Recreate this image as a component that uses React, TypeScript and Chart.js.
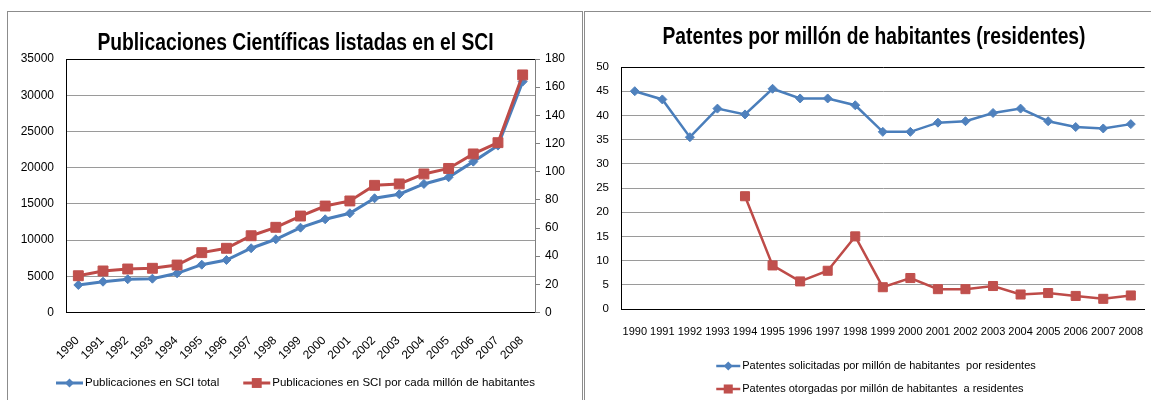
import React, { useEffect, useRef } from 'react';
import { Chart, registerables } from 'chart.js';

Chart.register(...registerables);

// ---------- data ----------
const years = ['1990', '1991', '1992', '1993', '1994', '1995', '1996', '1997', '1998', '1999', '2000', '2001', '2002', '2003', '2004', '2005', '2006', '2007', '2008'];

const sciTitle = 'Publicaciones Científicas listadas en el SCI';
const sciTotalLabel = 'Publicaciones en SCI total';
const sciPerMillionLabel = 'Publicaciones en SCI por cada millón de habitantes';
const sciTotal = [3800, 4250, 4590, 4670, 5410, 6600, 7250, 8870, 10110, 11710, 12870, 13700, 15770, 16330, 17750, 18670, 20830, 23040, 31880];
const sciPerMillion = [26.1, 29.5, 30.9, 31.4, 33.7, 42.5, 45.6, 54.5, 60.5, 68.5, 75.6, 79.2, 90.3, 91.3, 98.4, 102.3, 112.6, 120.6, 168.7];
const sciLeftTicks = [0, 5000, 10000, 15000, 20000, 25000, 30000, 35000];
const sciRightTicks = [0, 20, 40, 60, 80, 100, 120, 140, 160, 180];

const patTitle = 'Patentes por millón de habitantes (residentes)';
const patAppliedLabel = 'Patentes solicitadas por millón de habitantes  por residentes';
const patGrantedLabel = 'Patentes otorgadas por millón de habitantes  a residentes';
const patApplied = [45.0, 43.3, 35.5, 41.4, 40.2, 45.5, 43.5, 43.5, 42.1, 36.6, 36.6, 38.5, 38.8, 40.5, 41.4, 38.8, 37.6, 37.3, 38.2];
const patGranted = [null, null, null, null, 23.3, 9.0, 5.7, 7.9, 15.0, 4.5, 6.4, 4.1, 4.1, 4.75, 3.0, 3.3, 2.7, 2.1, 2.8];
const patTicks = [0, 5, 10, 15, 20, 25, 30, 35, 40, 45, 50];

// ---------- styles ----------
const BLUE = '#4F81BD';
const BLUE_LINE = '#4A7EBB';
const RED = '#C0504D';
const RED_LINE = '#BE4B48';
const GRID = '#9a9a9a';
const FRAME = '#8c8c8c';
const TICK_FONT = 'Liberation Sans';
const TITLE_FONT = '"Liberation Sans", Arial, sans-serif';

// ---------- plugins ----------
const excelTitle = {
  id: 'excelTitle',
  afterDraw(chart: any, _args: any, opts: any) {
    const { ctx } = chart;
    ctx.save();
    ctx.font = opts.font;
    ctx.fillStyle = '#000';
    ctx.textAlign = 'center';
    ctx.textBaseline = 'alphabetic';
    ctx.translate(opts.x, opts.y);
    ctx.scale(opts.condense, 1);
    ctx.fillText(opts.text, 0, 0);
    ctx.restore();
  },
};

function drawMarker(ctx: any, ds: any, x: number, y: number) {
  const r = ds.pointRadius;
  ctx.fillStyle = ds.pointBackgroundColor;
  ctx.beginPath();
  if (ds.pointStyle === 'rectRot') {
    ctx.moveTo(x, y - r);
    ctx.lineTo(x + r, y);
    ctx.lineTo(x, y + r);
    ctx.lineTo(x - r, y);
    ctx.closePath();
  } else {
    const s = Math.SQRT1_2 * r;
    ctx.rect(x - s, y - s, 2 * s, 2 * s);
  }
  ctx.fill();
}

const excelLegend = {
  id: 'excelLegend',
  afterDraw(chart: any, _args: any, opts: any) {
    const { ctx } = chart;
    const datasets = chart.data.datasets;
    ctx.save();
    ctx.font = opts.font;
    const widths = datasets.map((d: any) => opts.lineLen + opts.textGap + ctx.measureText(d.label).width);
    const drawItem = (ds: any, x: number, y: number) => {
      ctx.strokeStyle = ds.borderColor;
      ctx.lineWidth = ds.borderWidth;
      ctx.beginPath();
      ctx.moveTo(x, y);
      ctx.lineTo(x + opts.lineLen, y);
      ctx.stroke();
      drawMarker(ctx, ds, x + opts.lineLen / 2, y);
      ctx.fillStyle = '#000';
      ctx.textAlign = 'left';
      ctx.textBaseline = 'middle';
      ctx.fillText(ds.label, x + opts.lineLen + opts.textGap, y);
    };
    if (opts.layout === 'row') {
      const total = widths.reduce((a: number, b: number) => a + b, 0) + opts.itemGap * (datasets.length - 1);
      let x = opts.centerX - total / 2;
      datasets.forEach((ds: any, i: number) => {
        drawItem(ds, x, opts.y);
        x += widths[i] + opts.itemGap;
      });
    } else {
      const maxW = Math.max(...widths);
      const x = opts.centerX - maxW / 2;
      datasets.forEach((ds: any, i: number) => drawItem(ds, x, opts.y + i * opts.rowGap));
    }
    ctx.restore();
  },
};

const setTicks = (values: number[]) => (scale: any) => {
  scale.ticks = values.map((v) => ({ value: v }));
};

// ---------- charts ----------
function buildSci(canvas: HTMLCanvasElement) {
  const w = canvas.width;
  return new Chart(canvas, {
    type: 'line',
    data: {
      labels: years,
      datasets: [
        {
          label: sciTotalLabel,
          data: sciTotal,
          yAxisID: 'y',
          borderColor: BLUE_LINE,
          backgroundColor: BLUE,
          borderWidth: 3,
          pointStyle: 'rectRot',
          pointRadius: 4.5,
          pointBackgroundColor: BLUE,
          pointBorderColor: BLUE,
          pointBorderWidth: 1,
          tension: 0,
          order: 1,
        },
        {
          label: sciPerMillionLabel,
          data: sciPerMillion,
          yAxisID: 'y1',
          borderColor: RED_LINE,
          backgroundColor: RED,
          borderWidth: 3,
          pointStyle: 'rect',
          pointRadius: 7,
          pointBackgroundColor: RED,
          pointBorderColor: RED,
          pointBorderWidth: 1,
          tension: 0,
          order: 0,
        },
      ],
    },
    options: {
      responsive: false,
      animation: false,
      events: [],
      layout: { padding: { top: 47, left: 0, right: 0, bottom: 7.5 } },
      plugins: {
        legend: { display: false },
        title: { display: false },
        tooltip: { enabled: false },
        excelTitle: { text: sciTitle, x: w / 2 + 0.5, y: 38, condense: 0.82, font: `bold 23.5px ${TITLE_FONT}` },
        excelLegend: {
          layout: 'row',
          centerX: w / 2 + 0.5,
          y: 371,
          lineLen: 27,
          textGap: 2,
          itemGap: 24,
          font: '11.5px "Liberation Sans", Arial, sans-serif',
        },
      } as any,
      scales: {
        x: {
          type: 'category',
          offset: true,
          grid: { display: false, drawTicks: false },
          border: { display: true, color: '#000', width: 1 },
          ticks: {
            color: '#000',
            font: { family: TICK_FONT, size: 12 },
            minRotation: 45,
            maxRotation: 45,
            autoSkip: false,
            padding: 21,
            labelOffset: -1,
          },
          afterFit: (s: any) => {
            s.height = 80;
            s.paddingLeft = 0;
            s.paddingRight = 0;
          },
        },
        y: {
          type: 'linear',
          position: 'left',
          min: 0,
          max: 35000,
          afterBuildTicks: setTicks(sciLeftTicks),
          grid: {
            drawTicks: false,
            color: (c: any) => (c.tick && c.tick.value === 35000 ? '#000' : GRID),
          },
          border: { display: true, color: '#000', width: 1 },
          ticks: {
            color: '#000',
            font: { family: TICK_FONT, size: 12 },
            padding: 12,
            callback: (v: any) => String(v),
          },
          afterFit: (s: any) => {
            s.width = 58;
          },
        },
        y1: {
          type: 'linear',
          position: 'right',
          min: 0,
          max: 180,
          afterBuildTicks: setTicks(sciRightTicks),
          grid: { drawOnChartArea: false, drawTicks: true, tickLength: 5, color: '#808080' },
          border: { display: true, color: '#808080', width: 1 },
          ticks: {
            color: '#000',
            font: { family: TICK_FONT, size: 12 },
            padding: 5,
            callback: (v: any) => String(v),
          },
          afterFit: (s: any) => {
            s.width = 47;
          },
        },
      },
    },
    plugins: [excelTitle, excelLegend],
  } as any);
}

function buildPat(canvas: HTMLCanvasElement) {
  return new Chart(canvas, {
    type: 'line',
    data: {
      labels: years,
      datasets: [
        {
          label: patAppliedLabel,
          data: patApplied,
          borderColor: BLUE_LINE,
          backgroundColor: BLUE,
          borderWidth: 2.5,
          pointStyle: 'rectRot',
          pointRadius: 4.5,
          pointBackgroundColor: BLUE,
          pointBorderColor: BLUE,
          pointBorderWidth: 1,
          tension: 0,
        },
        {
          label: patGrantedLabel,
          data: patGranted,
          borderColor: RED_LINE,
          backgroundColor: RED,
          borderWidth: 2.5,
          pointStyle: 'rect',
          pointRadius: 6.4,
          pointBackgroundColor: RED,
          pointBorderColor: RED,
          pointBorderWidth: 1,
          tension: 0,
          spanGaps: false,
        },
      ],
    },
    options: {
      responsive: false,
      animation: false,
      events: [],
      layout: { padding: { top: 55, left: 0, right: 0, bottom: 61 } },
      plugins: {
        legend: { display: false },
        title: { display: false },
        tooltip: { enabled: false },
        excelTitle: { text: patTitle, x: 289, y: 31.5, condense: 0.82, font: `bold 23.5px ${TITLE_FONT}` },
        excelLegend: {
          layout: 'column',
          centerX: 291,
          y: 354,
          rowGap: 23,
          lineLen: 24,
          textGap: 2,
          font: '11px "Liberation Sans", Arial, sans-serif',
        },
      } as any,
      scales: {
        x: {
          type: 'category',
          offset: true,
          grid: { display: false, drawTicks: false },
          border: { display: true, color: '#000', width: 1 },
          ticks: {
            color: '#000',
            font: { family: TICK_FONT, size: 11 },
            minRotation: 0,
            maxRotation: 0,
            autoSkip: false,
            padding: 16,
          },
          afterFit: (s: any) => {
            s.height = 30;
            s.paddingLeft = 0;
            s.paddingRight = 0;
          },
        },
        y: {
          type: 'linear',
          position: 'left',
          min: 0,
          max: 50,
          afterBuildTicks: setTicks(patTicks),
          grid: {
            drawTicks: false,
            color: (c: any) => (c.tick && c.tick.value === 50 ? '#000' : GRID),
          },
          border: { display: true, color: '#000', width: 1 },
          ticks: {
            color: '#000',
            font: { family: TICK_FONT, size: 11.5 },
            padding: 12,
            callback: (v: any) => String(v),
          },
          afterFit: (s: any) => {
            s.width = 36;
          },
        },
      },
    },
    plugins: [excelTitle, excelLegend],
  } as any);
}

export default function App() {
  const leftRef = useRef<HTMLCanvasElement | null>(null);
  const rightRef = useRef<HTMLCanvasElement | null>(null);

  useEffect(() => {
    const a = leftRef.current ? buildSci(leftRef.current) : null;
    const b = rightRef.current ? buildPat(rightRef.current) : null;
    return () => {
      if (a) a.destroy();
      if (b) b.destroy();
    };
  }, []);

  return (
    <div
      style={{
        position: 'absolute',
        left: 0,
        top: 0,
        width: 1151,
        height: 400,
        overflow: 'hidden',
        background: '#fff',
      }}
    >
      <div
        style={{
          position: 'absolute',
          left: 7,
          top: 11,
          width: 576,
          height: 420,
          boxSizing: 'border-box',
          border: `1px solid ${FRAME}`,
        }}
      />
      <div
        style={{
          position: 'absolute',
          left: 584,
          top: 11,
          width: 700,
          height: 420,
          boxSizing: 'border-box',
          border: `1px solid ${FRAME}`,
        }}
      />
      <canvas
        ref={leftRef}
        width={574}
        height={388}
        style={{ position: 'absolute', left: 8, top: 12, width: 574, height: 388 }}
      />
      <canvas
        ref={rightRef}
        width={567}
        height={388}
        style={{ position: 'absolute', left: 585, top: 12, width: 567, height: 388 }}
      />
    </div>
  );
}
